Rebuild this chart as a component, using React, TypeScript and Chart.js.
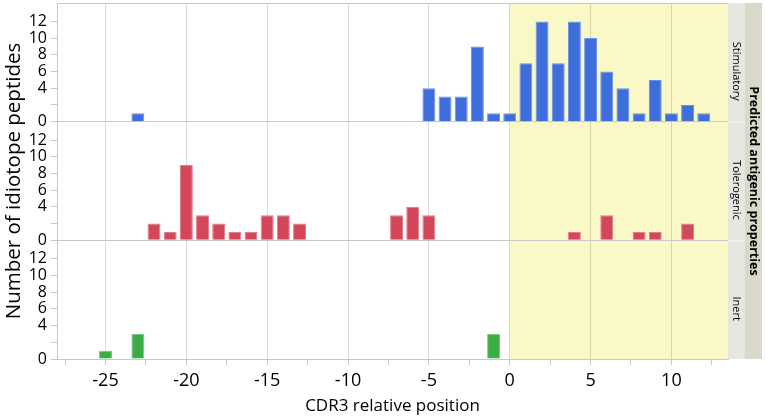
import React, { useEffect, useRef } from 'react';
import { Chart, registerables } from 'chart.js';

Chart.register(...registerables);

// CDR3 relative position of each bar, and the number of peptides there
const stimPositions = [-23, -5, -4, -3, -2, -1, 0, 1, 2, 3, 4, 5, 6, 7, 8, 9, 10, 11, 12];
const stimCounts = [1, 4, 3, 3, 9, 1, 1, 7, 12, 7, 12, 10, 6, 4, 1, 5, 1, 2, 1];
const tolPositions = [-22, -21, -20, -19, -18, -17, -16, -15, -14, -13, -7, -6, -5, 4, 6, 8, 9, 11];
const tolCounts = [2, 1, 9, 3, 2, 1, 1, 3, 3, 2, 3, 4, 3, 1, 3, 1, 1, 2];
const inertPositions = [-25, -23, -1];
const inertCounts = [1, 3, 3];

const panelLabels = ['Stimulatory', 'Tolerogenic', 'Inert'];
const groupLabel = 'Predicted antigenic properties';
const xMajorTicks = [-25, -20, -15, -10, -5, 0, 5, 10];
const xMinorTicks = [-27.5, -22.5, -17.5, -12.5, -7.5, -2.5, 2.5, 7.5, 12.5];
const yTicks = [0, 2, 4, 6, 8, 10, 12];
const yLabelled = [0, 4, 6, 8, 10, 12];
const highlightFrom = 0;

const FONT = '"Open Sans", sans-serif';
const GRID = 'rgba(0,0,0,0.14)';
const AXIS = '#c8c8c8';
const panelIds = ['y1', 'y2', 'y3'];

const noPadding = (s: any) => {
  s.paddingTop = 0;
  s.paddingBottom = 0;
  s.paddingLeft = 0;
  s.paddingRight = 0;
};

const panelAxis = (weight: number, title?: string) => ({
  type: 'linear',
  position: 'left',
  stack: 'panels',
  stackWeight: 1,
  weight,
  min: 0,
  max: 14.2,
  afterBuildTicks: (s: any) => {
    s.ticks = yTicks.map((v) => ({ value: v }));
  },
  afterFit: (s: any) => {
    s.width = 57;
    noPadding(s);
  },
  ticks: {
    autoSkip: false,
    padding: 4,
    color: '#000',
    font: { family: FONT, size: 16 },
    callback: (v: any) => (yLabelled.includes(v) ? String(v) : ''),
  },
  grid: {
    color: (c: any) => (c.tick && c.tick.value === 0 ? AXIS : 'transparent'),
    tickColor: AXIS,
    tickLength: 6,
  },
  border: { color: AXIS },
  title: title
    ? { display: true, text: title, color: '#000', font: { family: FONT, size: 20.5 }, padding: { top: 2, bottom: 0 } }
    : { display: false },
});

const panelPlugin = {
  id: 'panels',
  beforeDraw(chart: any) {
    const { ctx, chartArea } = chart;
    const x0 = chart.scales.x.getPixelForValue(highlightFrom);
    ctx.save();
    ctx.fillStyle = '#fbf8c8';
    ctx.fillRect(x0, chartArea.top, chartArea.right - x0, chartArea.bottom - chartArea.top);
    ctx.restore();
  },
  afterDraw(chart: any) {
    const { ctx, chartArea } = chart;
    const { top, bottom, left, right } = chartArea;
    ctx.save();
    // frame top
    ctx.strokeStyle = AXIS;
    ctx.lineWidth = 1;
    ctx.beginPath();
    ctx.moveTo(left, top + 0.5);
    ctx.lineTo(right, top + 0.5);
    ctx.stroke();

    const inner = 16.5;
    const outer = 17.5;
    ctx.fillStyle = '#e7e7e1';
    ctx.fillRect(right, top, inner, bottom - top);
    ctx.fillStyle = '#dad8ca';
    ctx.fillRect(right + inner, top, outer, bottom - top);

    ctx.fillStyle = '#000';
    ctx.textAlign = 'center';
    ctx.textBaseline = 'middle';
    panelIds.forEach((id, i) => {
      const s = chart.scales[id];
      if (i > 0) {
        ctx.strokeStyle = '#f7f7f3';
        ctx.beginPath();
        ctx.moveTo(right, s.top + 0.5);
        ctx.lineTo(right + inner, s.top + 0.5);
        ctx.stroke();
      }
      ctx.save();
      ctx.translate(right + inner / 2, (s.top + s.bottom) / 2 + 9);
      ctx.rotate(Math.PI / 2);
      ctx.font = `11px ${FONT}`;
      ctx.fillText(panelLabels[i], 0, 0);
      ctx.restore();
    });
    ctx.save();
    ctx.translate(right + inner + outer / 2, (top + bottom) / 2);
    ctx.rotate(Math.PI / 2);
    ctx.font = `bold 12.5px ${FONT}`;
    ctx.fillText(groupLabel, 0, 0);
    ctx.restore();
    ctx.restore();
  },
};

const App: React.FC = () => {
  const chartRef = useRef<HTMLCanvasElement>(null);
  const chartInstance = useRef<Chart | null>(null);

  useEffect(() => {
    if (!chartRef.current) return;
    const ctx = chartRef.current.getContext('2d');
    if (!ctx) return;
    if (chartInstance.current) chartInstance.current.destroy();

    const toPoints = (xs: number[], ys: number[]) => xs.map((x, i) => ({ x, y: ys[i] }));

    chartInstance.current = new Chart(ctx, {
      type: 'bar',
      data: {
        datasets: [
          {
            label: panelLabels[0],
            data: toPoints(stimPositions, stimCounts),
            yAxisID: 'y1',
            backgroundColor: '#3e6ddc',
            borderColor: '#6a90e6',
            borderWidth: 1,
          },
          {
            label: panelLabels[1],
            data: toPoints(tolPositions, tolCounts),
            yAxisID: 'y2',
            backgroundColor: '#d4475a',
            borderColor: '#e27d8a',
            borderWidth: 1,
          },
          {
            label: panelLabels[2],
            data: toPoints(inertPositions, inertCounts),
            yAxisID: 'y3',
            backgroundColor: '#3aae44',
            borderColor: '#78c97e',
            borderWidth: 1,
          },
        ],
      } as any,
      options: {
        animation: false,
        responsive: false,
        grouped: false,
        barPercentage: 0.8,
        categoryPercentage: 1,
        layout: { padding: { top: 3, right: 37, left: 0, bottom: 0 } },
        plugins: { legend: { display: false }, tooltip: { enabled: false } },
        scales: {
          x: {
            type: 'linear',
            position: 'bottom',
            min: -28,
            max: 13.5,
            offset: false,
            afterBuildTicks: (s: any) => {
              s.ticks = [...xMinorTicks, ...xMajorTicks].sort((a, b) => a - b).map((v) => ({ value: v }));
            },
            afterFit: (s: any) => {
              s.height = 59;
              noPadding(s);
            },
            ticks: {
              autoSkip: false,
              maxRotation: 0,
              padding: 5,
              color: '#000',
              font: { family: FONT, size: 18 },
              callback: (v: any) => (xMajorTicks.includes(v) ? String(v) : ''),
            },
            grid: {
              offset: false,
              color: (c: any) => (c.tick && xMajorTicks.includes(c.tick.value) ? GRID : 'transparent'),
              tickColor: AXIS,
              tickLength: 6,
            },
            border: { color: AXIS },
            title: {
              display: true,
              text: 'CDR3 relative position',
              color: '#000',
              font: { family: FONT, size: 17 },
              padding: { top: 0, bottom: 2 },
            },
          },
          y1: panelAxis(3),
          y2: panelAxis(2, 'Number of idiotope peptides'),
          y3: panelAxis(1),
        } as any,
      } as any,
      plugins: [panelPlugin],
    });

    return () => {
      if (chartInstance.current) {
        chartInstance.current.destroy();
        chartInstance.current = null;
      }
    };
  }, []);

  return (
    <div style={{ position: 'fixed', left: 0, top: 0, width: 765, height: 418, background: '#fff' }}>
      <canvas ref={chartRef} width={765} height={418} style={{ width: 765, height: 418 }} />
    </div>
  );
};

export default App;
